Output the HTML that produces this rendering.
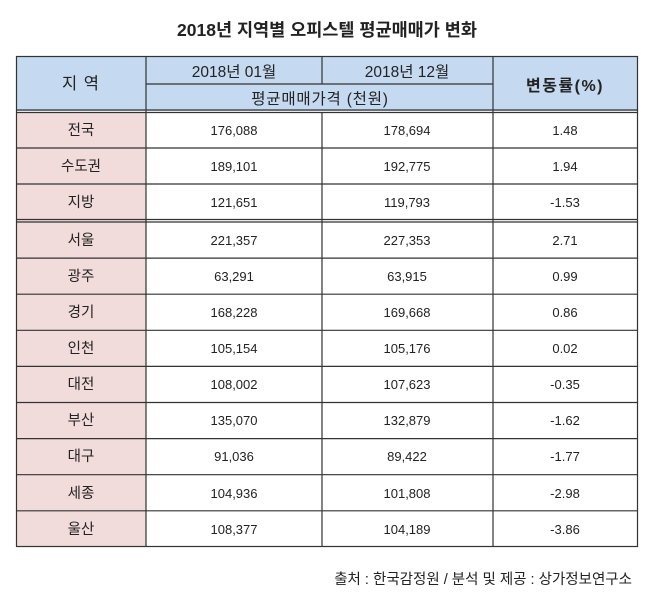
<!DOCTYPE html>
<html><head><meta charset="utf-8"><style>
body{margin:0;background:#fff;width:654px;height:606px;overflow:hidden}
svg{display:block}
text{font-family:"Liberation Sans","Noto Sans CJK KR",sans-serif;fill:#222}
</style></head><body>
<svg width="654" height="606" viewBox="0 0 654 606">
<text x="327" y="36" text-anchor="middle" font-size="17.5" font-weight="bold" fill="#111">2018년 지역별 오피스텔 평균매매가 변화</text>
<rect x="16" y="56" width="622" height="55" fill="#c5d9f1"/>
<rect x="16" y="112" width="130" height="435" fill="#f2dcdb"/>
<g stroke="#333" stroke-width="1.2" fill="none">
<rect x="16.5" y="56.5" width="621" height="490"/>
<line x1="146" y1="56" x2="146" y2="547"/>
<line x1="322" y1="56" x2="322" y2="84"/>
<line x1="322" y1="112" x2="322" y2="547"/>
<line x1="493" y1="56" x2="493" y2="547"/>
<line x1="146" y1="84" x2="493" y2="84"/>
<line x1="16" y1="110" x2="638" y2="110"/>
<line x1="16" y1="112.5" x2="638" y2="112.5"/>
<line x1="16" y1="148" x2="638" y2="148"/>
<line x1="16" y1="184" x2="638" y2="184"/>
<line x1="16" y1="219.5" x2="638" y2="219.5"/>
<line x1="16" y1="222" x2="638" y2="222"/>
<line x1="16" y1="258.1" x2="638" y2="258.1"/>
<line x1="16" y1="294.2" x2="638" y2="294.2"/>
<line x1="16" y1="330.3" x2="638" y2="330.3"/>
<line x1="16" y1="366.4" x2="638" y2="366.4"/>
<line x1="16" y1="402.5" x2="638" y2="402.5"/>
<line x1="16" y1="438.6" x2="638" y2="438.6"/>
<line x1="16" y1="474.7" x2="638" y2="474.7"/>
<line x1="16" y1="510.8" x2="638" y2="510.8"/>
</g>
<g font-size="15.5" text-anchor="middle">
<text x="81" y="89" font-size="16.5" letter-spacing="1">지 역</text>
<text x="234" y="77">2018년 01월</text>
<text x="407" y="77">2018년 12월</text>
<text x="320" y="104" letter-spacing="0.8">평균매매가격 (천원)</text>
<text x="565" y="91" font-weight="bold" font-size="16" letter-spacing="1.5">변동률(%)</text>
</g>
<g font-size="13" text-anchor="middle">
<g transform="translate(0,135)"><text x="81" font-size="14.5">전국</text><text x="234">176,088</text><text x="407">178,694</text><text x="565">1.48</text></g>
<g transform="translate(0,171)"><text x="81" font-size="14.5">수도권</text><text x="234">189,101</text><text x="407">192,775</text><text x="565">1.94</text></g>
<g transform="translate(0,207)"><text x="81" font-size="14.5">지방</text><text x="234">121,651</text><text x="407">119,793</text><text x="565">-1.53</text></g>
<g transform="translate(0,245)"><text x="81" font-size="14.5">서울</text><text x="234">221,357</text><text x="407">227,353</text><text x="565">2.71</text></g>
<g transform="translate(0,281)"><text x="81" font-size="14.5">광주</text><text x="234">63,291</text><text x="407">63,915</text><text x="565">0.99</text></g>
<g transform="translate(0,317)"><text x="81" font-size="14.5">경기</text><text x="234">168,228</text><text x="407">169,668</text><text x="565">0.86</text></g>
<g transform="translate(0,353)"><text x="81" font-size="14.5">인천</text><text x="234">105,154</text><text x="407">105,176</text><text x="565">0.02</text></g>
<g transform="translate(0,389)"><text x="81" font-size="14.5">대전</text><text x="234">108,002</text><text x="407">107,623</text><text x="565">-0.35</text></g>
<g transform="translate(0,425)"><text x="81" font-size="14.5">부산</text><text x="234">135,070</text><text x="407">132,879</text><text x="565">-1.62</text></g>
<g transform="translate(0,461)"><text x="81" font-size="14.5">대구</text><text x="234">91,036</text><text x="407">89,422</text><text x="565">-1.77</text></g>
<g transform="translate(0,498)"><text x="81" font-size="14.5">세종</text><text x="234">104,936</text><text x="407">101,808</text><text x="565">-2.98</text></g>
<g transform="translate(0,534)"><text x="81" font-size="14.5">울산</text><text x="234">108,377</text><text x="407">104,189</text><text x="565">-3.86</text></g>
</g>
<text x="632" y="584" text-anchor="end" font-size="14.5">출처 : 한국감정원 / 분석 및 제공 : 상가정보연구소</text>
</svg>
</body></html>
